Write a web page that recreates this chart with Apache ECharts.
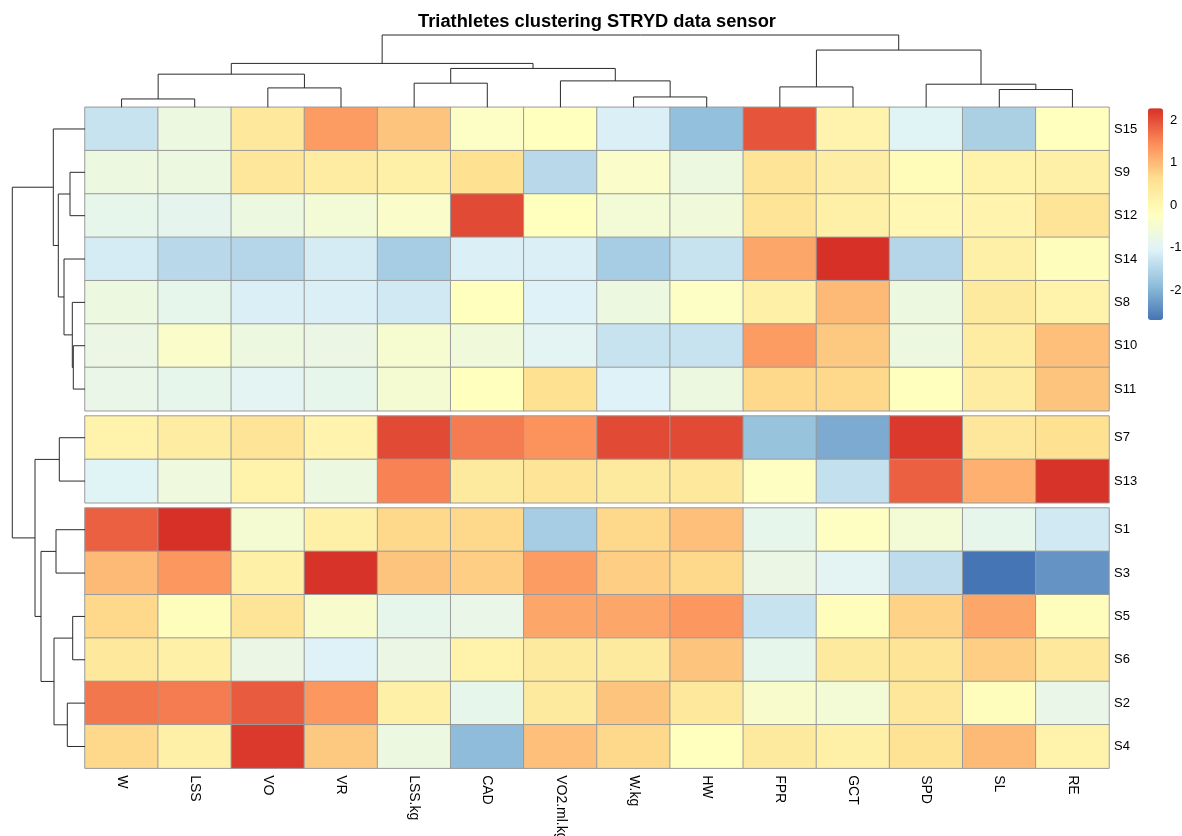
<!DOCTYPE html>
<html>
<head>
<meta charset="utf-8">
<script src="https://cdn.jsdelivr.net/npm/echarts@6/dist/echarts.min.js"></script>
<style>html,body{margin:0;padding:0;background:#fff}#c{width:1182px;height:836px}</style>
</head>
<body>
<div id="c"></div>
<script>
// ---------- data ----------
const colNames = ['W','LSS','VO','VR','LSS.kg','CAD','VO2.ml.kg','W.kg','HW','FPR','GCT','SPD','SL','RE'];
const group1Rows = ['S15','S9','S12','S14','S8','S10','S11'];
const group2Rows = ['S7','S13'];
const group3Rows = ['S1','S3','S5','S6','S2','S4'];

const valS15 = [-1.3,-0.7, 0.4, 1.3, 0.9,-0.3,-0.2,-1.1,-1.85, 1.95, 0.1,-1.0,-1.6,-0.2];
const valS9  = [-0.7,-0.7, 0.45, 0.3, 0.2, 0.6,-1.45,-0.35,-0.7, 0.5, 0.25,-0.1, 0.15, 0.2];
const valS12 = [-0.85,-0.9,-0.7,-0.55,-0.35, 2.05,-0.2,-0.55,-0.6, 0.5, 0.2, 0.0, 0.1, 0.5];
const valS14 = [-1.15,-1.45,-1.5,-1.15,-1.65,-1.1,-1.1,-1.65,-1.3, 1.2, 2.28,-1.5, 0.2,-0.15];
const valS8  = [-0.7,-0.85,-1.1,-1.1,-1.2,-0.2,-1.05,-0.7,-0.3, 0.2, 1.0,-0.7, 0.35, 0.15];
const valS10 = [-0.75,-0.35,-0.7,-0.75,-0.45,-0.6,-0.95,-1.3,-1.3, 1.3, 0.85,-0.7, 0.3, 0.95];
const valS11 = [-0.8,-0.85,-0.95,-0.85,-0.5,-0.2, 0.6,-1.05,-0.7, 0.7, 0.7,-0.2, 0.3, 0.9];
const valS7  = [ 0.15, 0.3, 0.5, 0.1, 2.05, 1.6, 1.4, 2.05, 2.05,-1.8,-2.1, 2.2, 0.45, 0.6];
const valS13 = [-1.0,-0.65, 0.15,-0.7, 1.55, 0.35, 0.5, 0.35, 0.4,-0.25,-1.35, 1.85, 1.1, 2.25];
const valS1  = [ 1.85, 2.28,-0.5, 0.2, 0.7, 0.7,-1.65, 0.7, 0.95,-0.85,-0.25,-0.55,-0.85,-1.2];
const valS3  = [ 1.0, 1.35, 0.2, 2.25, 0.9, 0.8, 1.3, 0.8, 0.7,-0.75,-0.95,-1.4,-2.7,-2.35];
const valS5  = [ 0.7,-0.15, 0.5,-0.4,-0.85,-0.8, 1.2, 1.2, 1.35,-1.3,-0.15, 0.75, 1.2,-0.15];
const valS6  = [ 0.4, 0.2,-0.75,-1.05,-0.75, 0.15, 0.35, 0.35, 0.9,-0.85, 0.35, 0.5, 0.8, 0.4];
const valS2  = [ 1.65, 1.6, 1.9, 1.35, 0.2,-0.85, 0.35, 0.9, 0.4,-0.4,-0.55, 0.45,-0.15,-0.8];
const valS4  = [ 0.7, 0.2, 2.2, 0.85,-0.7,-1.9, 0.95, 0.7,-0.2, 0.35, 0.2, 0.55, 1.0, 0.15];

const group1Values = [valS15, valS9, valS12, valS14, valS8, valS10, valS11];
const group2Values = [valS7, valS13];
const group3Values = [valS1, valS3, valS5, valS6, valS2, valS4];

const scaleMin = -2.7, scaleMax = 2.28;
const colorTicks = [-2, -1, 0, 1, 2];
const palette = ['#4575B4','#91BFDB','#E0F3F8','#FFFFBF','#FEE090','#FC8D59','#D73027'];

// dendrogram merges: [a, b, height]; negative = leaf (1-based), positive = earlier merge (1-based)
const colMerge = [
  [-1, -2, 8.3], [-8, -9, 10.3], [-13, -14, 17.7], [-3, -4, 19.3], [-10, -11, 20.3],
  [-12, 3, 23], [-5, -6, 24], [-7, 2, 26.3], [1, 4, 33], [7, 8, 38.7],
  [9, 10, 43.7], [5, 6, 57], [11, 12, 72]
];
const rowMerge = [
  [-6, -7, 11.7], [-12, -13, 12.3], [-5, 1, 12.7], [-2, -3, 15], [-14, -15, 17.7],
  [-4, 3, 21], [-8, -9, 25.7], [4, 6, 26.7], [-10, -11, 29], [2, 5, 31],
  [-1, 8, 31.7], [9, 10, 44], [7, 12, 50], [11, 13, 72.7]
];

// ---------- layout ----------
const FONT = '"Liberation Sans", Arial, Helvetica, sans-serif';
const HL = 85, HW = 1024, HT = 107.3, CH = 43.35, GAP = 5.3;
const groups = [[group1Rows, group1Values], [group2Rows, group2Values], [group3Rows, group3Values]];
let topAcc = HT;
const gridTops = [];
groups.forEach(([r]) => { gridTops.push(topAcc); topAcc += r.length * CH + GAP; });
const heatBottom = topAcc - GAP;

function heatData(rows, vals) {
  const d = [];
  rows.forEach((r, i) => vals[i].forEach((v, j) => d.push([j, i, v])));
  return d;
}

const grids = [], xAxes = [], yAxes = [], series = [];
groups.forEach(([rows, vals], g) => {
  grids.push({left: HL, width: HW, top: gridTops[g], height: rows.length * CH, outerBoundsMode: 'none', containLabel: false});
  xAxes.push({
    type: 'category', gridIndex: g, data: colNames, position: 'bottom',
    axisLine: {show: false}, axisTick: {show: false}, splitLine: {show: false}, splitArea: {show: false},
    axisLabel: {show: g === 2, rotate: -90, margin: 7, fontSize: 14, color: '#000', fontFamily: FONT, interval: 0}
  });
  yAxes.push({
    type: 'category', gridIndex: g, data: rows, inverse: true, position: 'right',
    axisLine: {show: false}, axisTick: {show: false}, splitLine: {show: false}, splitArea: {show: false},
    axisLabel: {margin: 5, fontSize: 13, color: '#000', fontFamily: FONT, interval: 0}
  });
  series.push({
    type: 'heatmap', xAxisIndex: g, yAxisIndex: g, data: heatData(rows, vals),
    itemStyle: {borderColor: '#9a9a9a', borderWidth: 1},
    emphasis: {disabled: true}, silent: true, progressive: 0
  });
});
// grid 3: column dendrogram
grids.push({left: HL, width: HW, top: 35, height: HT - 35, outerBoundsMode: 'none'});
xAxes.push({type: 'value', gridIndex: 3, min: 0, max: 1, show: false});
yAxes.push({type: 'value', gridIndex: 3, min: 0, max: 72, show: false});
// grid 4: row dendrogram
grids.push({left: 12.3, width: HL - 12.3, top: HT, height: heatBottom - HT, outerBoundsMode: 'none'});
xAxes.push({type: 'value', gridIndex: 4, min: 0, max: 72.7, inverse: true, show: false});
yAxes.push({type: 'value', gridIndex: 4, min: 0, max: 1, show: false});
// grid 5: colour key labels
const keyTop = 108.3, keyH = 211.7, keyLeft = 1148, keyW = 15;
grids.push({left: keyLeft, width: keyW, top: keyTop, height: keyH, outerBoundsMode: 'none'});
xAxes.push({type: 'value', gridIndex: 5, min: 0, max: 1, show: false});
yAxes.push({
  type: 'value', gridIndex: 5, min: scaleMin, max: scaleMax, position: 'right',
  axisLine: {show: false}, axisTick: {show: false}, splitLine: {show: false},
  axisLabel: {customValues: colorTicks, margin: 7, fontSize: 13, color: '#000', fontFamily: FONT}
});

const option = {
  animation: false,
  backgroundColor: '#fff',
  textStyle: {fontFamily: FONT},
  title: {
    text: 'Triathletes clustering STRYD data sensor',
    left: HL + HW / 2 - 5, top: 8, textAlign: 'center',
    textStyle: {fontSize: 18.3, fontWeight: 'bold', color: '#000', fontFamily: FONT}
  },
  grid: grids, xAxis: xAxes, yAxis: yAxes,
  visualMap: {
    type: 'continuous', min: scaleMin, max: scaleMax, seriesIndex: [0, 1, 2],
    calculable: false, orient: 'vertical', left: keyLeft, top: keyTop,
    itemWidth: keyW, itemHeight: keyH, padding: 0, text: null, showLabel: false,
    inRange: {color: palette}, hoverLink: false
  },
  series: series
};

const chart = echarts.init(document.getElementById('c'));
chart.setOption(option);

// ---------- dendrograms (leaf positions taken from the heatmap axes) ----------
const allRows = [...group1Rows, ...group2Rows, ...group3Rows];
const rowGrid = [...group1Rows.map(() => 0), ...group2Rows.map(() => 1), ...group3Rows.map(() => 2)];
const rowIdxInGrid = [...group1Rows.map((_, i) => i), ...group2Rows.map((_, i) => i), ...group3Rows.map((_, i) => i)];
const colPos = colNames.map((c, i) => chart.convertToPixel({xAxisIndex: 2}, i));
const rowPos = allRows.map((r, i) => chart.convertToPixel({yAxisIndex: rowGrid[i]}, rowIdxInGrid[i]));

function buildDendro(merge, leafPos) {
  const nodes = [], items = [];
  merge.forEach(([a, b, h]) => {
    const ca = a < 0 ? {p: leafPos[-a - 1], h: 0} : nodes[a - 1];
    const cb = b < 0 ? {p: leafPos[-b - 1], h: 0} : nodes[b - 1];
    nodes.push({p: (ca.p + cb.p) / 2, h: h});
    items.push([h, ca.h, cb.h, ca.p, cb.p]);
  });
  return items;
}
const lineStyle = {stroke: '#2a2a2a', lineWidth: 1, fill: null};
option.series.push({
  type: 'custom', xAxisIndex: 3, yAxisIndex: 3, silent: true,
  data: buildDendro(colMerge, colPos),
  encode: {y: 0},
  renderItem: (params, api) => {
    const y = api.coord([0, api.value(0)])[1];
    const ya = api.coord([0, api.value(1)])[1];
    const yb = api.coord([0, api.value(2)])[1];
    const pa = api.value(3), pb = api.value(4);
    return {type: 'polyline', shape: {points: [[pa, ya], [pa, y], [pb, y], [pb, yb]]}, style: lineStyle};
  }
});
option.series.push({
  type: 'custom', xAxisIndex: 4, yAxisIndex: 4, silent: true,
  data: buildDendro(rowMerge, rowPos),
  encode: {x: 0},
  renderItem: (params, api) => {
    const x = api.coord([api.value(0), 0])[0];
    const xa = api.coord([api.value(1), 0])[0];
    const xb = api.coord([api.value(2), 0])[0];
    const pa = api.value(3), pb = api.value(4);
    return {type: 'polyline', shape: {points: [[xa, pa], [x, pa], [x, pb], [xb, pb]]}, style: lineStyle};
  }
});
chart.setOption(option, true);
</script>
</body>
</html>
